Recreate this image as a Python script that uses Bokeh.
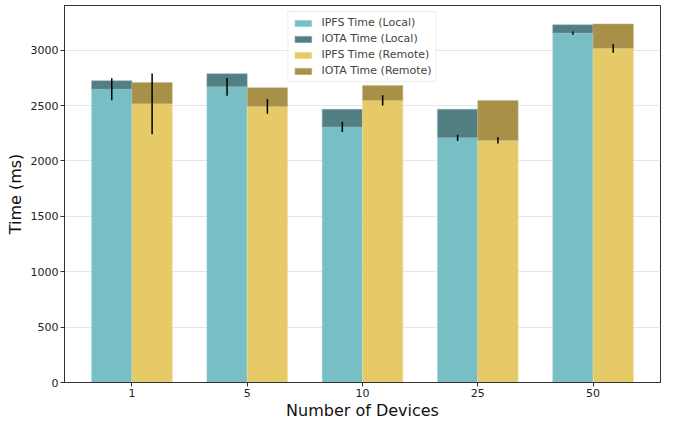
from bokeh.plotting import figure
from bokeh.models import ColumnDataSource, FixedTicker, Range1d, Legend, LegendItem
from bokeh.embed import file_html
from bokeh.resources import INLINE

devices = ["1", "5", "10", "25", "50"]
ipfs_local = [2648, 2670, 2307, 2209, 3155]
iota_local = [77, 118, 160, 258, 75]
ipfs_remote = [2516, 2493, 2547, 2186, 3017]
iota_remote = [192, 169, 135, 361, 221]
ipfs_local_err = [100, 80, 46, 29, 15]
ipfs_remote_err = [275, 67, 47, 29, 40]

w = 0.35
idx = list(range(len(devices)))
xl = [i - w / 2 for i in idx]
xr = [i + w / 2 for i in idx]

src = ColumnDataSource(dict(
    xl=xl, xr=xr,
    ipfs_l=ipfs_local, ipfs_r=ipfs_remote,
    tot_l=[a + b for a, b in zip(ipfs_local, iota_local)],
    tot_r=[a + b for a, b in zip(ipfs_remote, iota_remote)],
    lo_l=[a - e for a, e in zip(ipfs_local, ipfs_local_err)],
    hi_l=[a + e for a, e in zip(ipfs_local, ipfs_local_err)],
    lo_r=[a - e for a, e in zip(ipfs_remote, ipfs_remote_err)],
    hi_r=[a + e for a, e in zip(ipfs_remote, ipfs_remote_err)],
))

p = figure(width=662, height=422, output_backend="svg", toolbar_location=None,
           x_range=Range1d(-0.585, 4.585), y_range=Range1d(0, 3404),
           min_border_left=64, min_border_right=2, min_border_top=5, min_border_bottom=36)

c1, c2, c3, c4 = "#78bec5", "#517f82", "#e6ca68", "#a89048"
r1 = p.vbar(x="xl", top="ipfs_l", bottom=0, width=w, source=src, fill_color=c1, line_color="#a9d6da", line_width=0.5)
r2 = p.vbar(x="xl", top="tot_l", bottom="ipfs_l", width=w, source=src, fill_color=c2, line_color="#8fb0b2", line_width=0.5)
r3 = p.vbar(x="xr", top="ipfs_r", bottom=0, width=w, source=src, fill_color=c3, line_color="#efdc9c", line_width=0.5)
r4 = p.vbar(x="xr", top="tot_r", bottom="ipfs_r", width=w, source=src, fill_color=c4, line_color="#c7b587", line_width=0.5)
p.segment(x0="xl", x1="xl", y0="lo_l", y1="hi_l", source=src, line_color="black", line_width=1.5)
p.segment(x0="xr", x1="xr", y0="lo_r", y1="hi_r", source=src, line_color="black", line_width=1.5)

legend = Legend(items=[
    LegendItem(label="IPFS Time (Local)", renderers=[r1]),
    LegendItem(label="IOTA Time (Local)", renderers=[r2]),
    LegendItem(label="IPFS Time (Remote)", renderers=[r3]),
    LegendItem(label="IOTA Time (Remote)", renderers=[r4]),
], location="top_center")
legend.label_text_font = "DejaVu Sans"
legend.label_text_font_size = "11px"
legend.label_height = 12
legend.label_standoff = 8
legend.glyph_height = 8
legend.glyph_width = 21
legend.spacing = 3
legend.padding = 4
legend.margin = 6
legend.border_line_color = "#d9d9d9"
legend.border_line_width = 1
legend.background_fill_alpha = 0.85
p.add_layout(legend)

p.xaxis.ticker = FixedTicker(ticks=idx)
p.xaxis.major_label_overrides = {i: d for i, d in zip(idx, devices)}
p.yaxis.ticker = FixedTicker(ticks=[0, 500, 1000, 1500, 2000, 2500, 3000])
p.xaxis.axis_label = "Number of Devices"
p.yaxis.axis_label = "Time (ms)"
for ax in (p.xaxis[0], p.yaxis[0]):
    ax.axis_label_text_font = "DejaVu Sans"
    ax.axis_label_text_font_size = "16px"
    ax.axis_label_text_font_style = "normal"
    ax.axis_label_text_color = "#111111"
    ax.major_label_text_font = "DejaVu Sans"
    ax.major_label_text_font_size = "11px"
    ax.major_label_text_color = "#222222"
    ax.axis_line_color = "#333333"
    ax.major_tick_line_color = "#333333"
    ax.major_tick_out = 4
    ax.major_tick_in = 0
    ax.minor_tick_line_color = None
p.yaxis.axis_label_standoff = 3
p.xaxis.axis_label_standoff = 1
p.yaxis.major_label_standoff = 2
p.xaxis.major_label_standoff = 2
p.xgrid.grid_line_color = None
p.ygrid.grid_line_color = "#e6e6e6"
p.outline_line_color = "#333333"
p.outline_line_width = 1
p.outline_line_alpha = 1

open("out.html", "w").write(file_html(p, INLINE))
